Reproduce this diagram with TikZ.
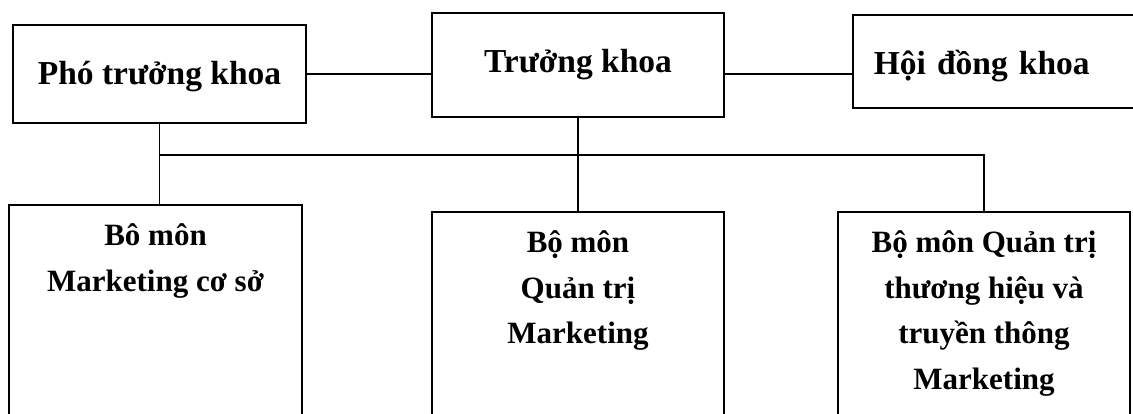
\documentclass[tikz,border=0pt]{standalone}
\usepackage{fontspec}
\setmainfont{Liberation Serif}
\usetikzlibrary{positioning}

\begin{document}
\begin{tikzpicture}[
    x=1pt, y=-1pt, line width=1.6pt,
    headbox/.style={draw, font=\fontsize{33.5}{40}\selectfont\bfseries, inner sep=0pt, text height=22pt, text depth=0pt},
    unitbox/.style={draw, minimum width=292pt, minimum height=260pt, anchor=north, inner sep=0pt},
    unittext/.style={font=\fontsize{31}{45.5}\selectfont\bfseries, align=center, inner sep=0pt, node distance=19pt}]

    \useasboundingbox (0,0) rectangle (1133,414);
    \clip (0,0) rectangle (1133,414);

    % top row
    \node[headbox, minimum width=293pt, minimum height=98pt] (pho) at (159.5,74) {Phó trưởng khoa};
    \node[headbox, minimum width=292pt, minimum height=104pt, text height=16pt] (truong) at (578,65) {Trưởng khoa};
    \node[headbox, anchor=west, text width=380pt, inner xsep=21pt, minimum height=93pt, text height=27pt, align=left] (hoi) at (852,61.5) {Hội đồng khoa};

    % departments
    \node[unitbox, minimum width=293pt] (bm1) at (155.5,204) {};
        \node[unittext, below=of bm1.north] (bm1lbl) {Bô môn\\Marketing cơ sở};
    \node[unitbox] (bm2) at (578,211) {};
        \node[unittext, below=of bm2.north] (bm2lbl) {Bộ môn\\Quản trị\\Marketing};
    \node[unitbox] (bm3) at (984,211) {};
        \node[unittext, below=of bm3.north] (bm3lbl) {Bộ môn Quản trị\\thương hiệu và\\truyền thông\\Marketing};

    % connectors
    \coordinate (bus) at (0,155);
    \draw (pho.east) -- (pho.east -| truong.west);
    \draw (truong.east |- pho.east) -- (hoi.west |- pho.east);
    \draw (pho.south) -- (pho.south |- bm1.north);
    \draw (pho.south |- bus) -- (bm3.north |- bus) -- (bm3.north);
    \draw (truong.south) -- (bm2.north);

\end{tikzpicture}
\end{document}
